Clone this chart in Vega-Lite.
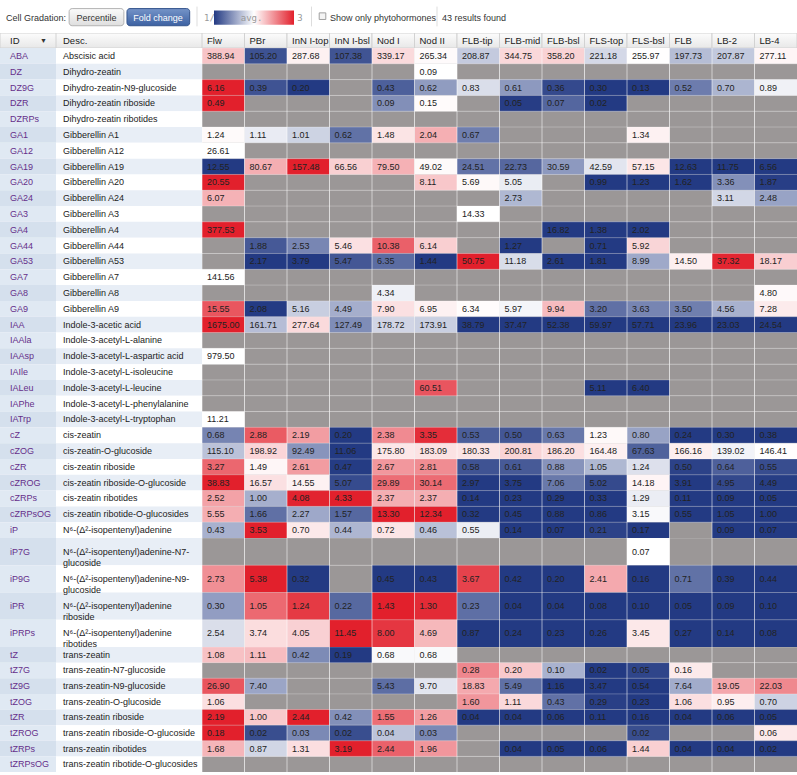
{
"$schema": "https://vega.github.io/schema/vega-lite/v6.json",
"padding": 0,
"background": "#ffffff",
"config": {"view": {"stroke": null}, "font": "Liberation Sans"},
"datasets": {
"rows": [
{"ID":"ABA","Desc":"Abscisic acid"},
{"ID":"DZ","Desc":"Dihydro-zeatin"},
{"ID":"DZ9G","Desc":"Dihydro-zeatin-N9-glucoside"},
{"ID":"DZR","Desc":"Dihydro-zeatin riboside"},
{"ID":"DZRPs","Desc":"Dihydro-zeatin ribotides"},
{"ID":"GA1","Desc":"Gibberellin A1"},
{"ID":"GA12","Desc":"Gibberellin A12"},
{"ID":"GA19","Desc":"Gibberellin A19"},
{"ID":"GA20","Desc":"Gibberellin A20"},
{"ID":"GA24","Desc":"Gibberellin A24"},
{"ID":"GA3","Desc":"Gibberellin A3"},
{"ID":"GA4","Desc":"Gibberellin A4"},
{"ID":"GA44","Desc":"Gibberellin A44"},
{"ID":"GA53","Desc":"Gibberellin A53"},
{"ID":"GA7","Desc":"Gibberellin A7"},
{"ID":"GA8","Desc":"Gibberellin A8"},
{"ID":"GA9","Desc":"Gibberellin A9"},
{"ID":"IAA","Desc":"Indole-3-acetic acid"},
{"ID":"IAAla","Desc":"Indole-3-acetyl-L-alanine"},
{"ID":"IAAsp","Desc":"Indole-3-acetyl-L-aspartic acid"},
{"ID":"IAIle","Desc":"Indole-3-acetyl-L-isoleucine"},
{"ID":"IALeu","Desc":"Indole-3-acetyl-L-leucine"},
{"ID":"IAPhe","Desc":"Indole-3-acetyl-L-phenylalanine"},
{"ID":"IATrp","Desc":"Indole-3-acetyl-L-tryptophan"},
{"ID":"cZ","Desc":"cis-zeatin"},
{"ID":"cZOG","Desc":"cis-zeatin-O-glucoside"},
{"ID":"cZR","Desc":"cis-zeatin riboside"},
{"ID":"cZROG","Desc":"cis-zeatin riboside-O-glucoside"},
{"ID":"cZRPs","Desc":"cis-zeatin ribotides"},
{"ID":"cZRPsOG","Desc":"cis-zeatin ribotide-O-glucosides"},
{"ID":"iP","Desc":"N⁶-(Δ²-isopentenyl)adenine"},
{"ID":"iP7G","Desc":"N⁶-(Δ²-isopentenyl)adenine-N7-\nglucoside"},
{"ID":"iP9G","Desc":"N⁶-(Δ²-isopentenyl)adenine-N9-\nglucoside"},
{"ID":"iPR","Desc":"N⁶-(Δ²-isopentenyl)adenine\nriboside"},
{"ID":"iPRPs","Desc":"N⁶-(Δ²-isopentenyl)adenine\nribotides"},
{"ID":"tZ","Desc":"trans-zeatin"},
{"ID":"tZ7G","Desc":"trans-zeatin-N7-glucoside"},
{"ID":"tZ9G","Desc":"trans-zeatin-N9-glucoside"},
{"ID":"tZOG","Desc":"trans-zeatin-O-glucoside"},
{"ID":"tZR","Desc":"trans-zeatin riboside"},
{"ID":"tZROG","Desc":"trans-zeatin riboside-O-glucoside"},
{"ID":"tZRPs","Desc":"trans-zeatin ribotides"},
{"ID":"tZRPsOG","Desc":"trans-zeatin ribotide-O-glucosides"}
],
"cells": [
{"ID":"ABA","tissue":"Flw","value":388.94},{"ID":"ABA","tissue":"PBr","value":105.20},{"ID":"ABA","tissue":"InN I-top","value":287.68},{"ID":"ABA","tissue":"InN I-bsl","value":107.38},{"ID":"ABA","tissue":"Nod I","value":339.17},{"ID":"ABA","tissue":"Nod II","value":265.34},{"ID":"ABA","tissue":"FLB-tip","value":208.87},{"ID":"ABA","tissue":"FLB-mid","value":344.75},{"ID":"ABA","tissue":"FLB-bsl","value":358.20},{"ID":"ABA","tissue":"FLS-top","value":221.18},{"ID":"ABA","tissue":"FLS-bsl","value":255.97},{"ID":"ABA","tissue":"FLB","value":197.73},{"ID":"ABA","tissue":"LB-2","value":207.87},{"ID":"ABA","tissue":"LB-4","value":277.11},
{"ID":"DZ","tissue":"Flw","value":null},{"ID":"DZ","tissue":"PBr","value":null},{"ID":"DZ","tissue":"InN I-top","value":null},{"ID":"DZ","tissue":"InN I-bsl","value":null},{"ID":"DZ","tissue":"Nod I","value":null},{"ID":"DZ","tissue":"Nod II","value":0.09},{"ID":"DZ","tissue":"FLB-tip","value":null},{"ID":"DZ","tissue":"FLB-mid","value":null},{"ID":"DZ","tissue":"FLB-bsl","value":null},{"ID":"DZ","tissue":"FLS-top","value":null},{"ID":"DZ","tissue":"FLS-bsl","value":null},{"ID":"DZ","tissue":"FLB","value":null},{"ID":"DZ","tissue":"LB-2","value":null},{"ID":"DZ","tissue":"LB-4","value":null},
{"ID":"DZ9G","tissue":"Flw","value":6.16},{"ID":"DZ9G","tissue":"PBr","value":0.39},{"ID":"DZ9G","tissue":"InN I-top","value":0.20},{"ID":"DZ9G","tissue":"InN I-bsl","value":null},{"ID":"DZ9G","tissue":"Nod I","value":0.43},{"ID":"DZ9G","tissue":"Nod II","value":0.62},{"ID":"DZ9G","tissue":"FLB-tip","value":0.83},{"ID":"DZ9G","tissue":"FLB-mid","value":0.61},{"ID":"DZ9G","tissue":"FLB-bsl","value":0.36},{"ID":"DZ9G","tissue":"FLS-top","value":0.30},{"ID":"DZ9G","tissue":"FLS-bsl","value":0.13},{"ID":"DZ9G","tissue":"FLB","value":0.52},{"ID":"DZ9G","tissue":"LB-2","value":0.70},{"ID":"DZ9G","tissue":"LB-4","value":0.89},
{"ID":"DZR","tissue":"Flw","value":0.49},{"ID":"DZR","tissue":"PBr","value":null},{"ID":"DZR","tissue":"InN I-top","value":null},{"ID":"DZR","tissue":"InN I-bsl","value":null},{"ID":"DZR","tissue":"Nod I","value":0.09},{"ID":"DZR","tissue":"Nod II","value":0.15},{"ID":"DZR","tissue":"FLB-tip","value":null},{"ID":"DZR","tissue":"FLB-mid","value":0.05},{"ID":"DZR","tissue":"FLB-bsl","value":0.07},{"ID":"DZR","tissue":"FLS-top","value":0.02},{"ID":"DZR","tissue":"FLS-bsl","value":null},{"ID":"DZR","tissue":"FLB","value":null},{"ID":"DZR","tissue":"LB-2","value":null},{"ID":"DZR","tissue":"LB-4","value":null},
{"ID":"DZRPs","tissue":"Flw","value":null},{"ID":"DZRPs","tissue":"PBr","value":null},{"ID":"DZRPs","tissue":"InN I-top","value":null},{"ID":"DZRPs","tissue":"InN I-bsl","value":null},{"ID":"DZRPs","tissue":"Nod I","value":null},{"ID":"DZRPs","tissue":"Nod II","value":null},{"ID":"DZRPs","tissue":"FLB-tip","value":null},{"ID":"DZRPs","tissue":"FLB-mid","value":null},{"ID":"DZRPs","tissue":"FLB-bsl","value":null},{"ID":"DZRPs","tissue":"FLS-top","value":null},{"ID":"DZRPs","tissue":"FLS-bsl","value":null},{"ID":"DZRPs","tissue":"FLB","value":null},{"ID":"DZRPs","tissue":"LB-2","value":null},{"ID":"DZRPs","tissue":"LB-4","value":null},
{"ID":"GA1","tissue":"Flw","value":1.24},{"ID":"GA1","tissue":"PBr","value":1.11},{"ID":"GA1","tissue":"InN I-top","value":1.01},{"ID":"GA1","tissue":"InN I-bsl","value":0.62},{"ID":"GA1","tissue":"Nod I","value":1.48},{"ID":"GA1","tissue":"Nod II","value":2.04},{"ID":"GA1","tissue":"FLB-tip","value":0.67},{"ID":"GA1","tissue":"FLB-mid","value":null},{"ID":"GA1","tissue":"FLB-bsl","value":null},{"ID":"GA1","tissue":"FLS-top","value":null},{"ID":"GA1","tissue":"FLS-bsl","value":1.34},{"ID":"GA1","tissue":"FLB","value":null},{"ID":"GA1","tissue":"LB-2","value":null},{"ID":"GA1","tissue":"LB-4","value":null},
{"ID":"GA12","tissue":"Flw","value":26.61},{"ID":"GA12","tissue":"PBr","value":null},{"ID":"GA12","tissue":"InN I-top","value":null},{"ID":"GA12","tissue":"InN I-bsl","value":null},{"ID":"GA12","tissue":"Nod I","value":null},{"ID":"GA12","tissue":"Nod II","value":null},{"ID":"GA12","tissue":"FLB-tip","value":null},{"ID":"GA12","tissue":"FLB-mid","value":null},{"ID":"GA12","tissue":"FLB-bsl","value":null},{"ID":"GA12","tissue":"FLS-top","value":null},{"ID":"GA12","tissue":"FLS-bsl","value":null},{"ID":"GA12","tissue":"FLB","value":null},{"ID":"GA12","tissue":"LB-2","value":null},{"ID":"GA12","tissue":"LB-4","value":null},
{"ID":"GA19","tissue":"Flw","value":12.55},{"ID":"GA19","tissue":"PBr","value":80.67},{"ID":"GA19","tissue":"InN I-top","value":157.48},{"ID":"GA19","tissue":"InN I-bsl","value":66.56},{"ID":"GA19","tissue":"Nod I","value":79.50},{"ID":"GA19","tissue":"Nod II","value":49.02},{"ID":"GA19","tissue":"FLB-tip","value":24.51},{"ID":"GA19","tissue":"FLB-mid","value":22.73},{"ID":"GA19","tissue":"FLB-bsl","value":30.59},{"ID":"GA19","tissue":"FLS-top","value":42.59},{"ID":"GA19","tissue":"FLS-bsl","value":57.15},{"ID":"GA19","tissue":"FLB","value":12.63},{"ID":"GA19","tissue":"LB-2","value":11.75},{"ID":"GA19","tissue":"LB-4","value":6.56},
{"ID":"GA20","tissue":"Flw","value":20.55},{"ID":"GA20","tissue":"PBr","value":null},{"ID":"GA20","tissue":"InN I-top","value":null},{"ID":"GA20","tissue":"InN I-bsl","value":null},{"ID":"GA20","tissue":"Nod I","value":null},{"ID":"GA20","tissue":"Nod II","value":8.11},{"ID":"GA20","tissue":"FLB-tip","value":5.69},{"ID":"GA20","tissue":"FLB-mid","value":5.05},{"ID":"GA20","tissue":"FLB-bsl","value":null},{"ID":"GA20","tissue":"FLS-top","value":0.99},{"ID":"GA20","tissue":"FLS-bsl","value":1.23},{"ID":"GA20","tissue":"FLB","value":1.62},{"ID":"GA20","tissue":"LB-2","value":3.36},{"ID":"GA20","tissue":"LB-4","value":1.87},
{"ID":"GA24","tissue":"Flw","value":6.07},{"ID":"GA24","tissue":"PBr","value":null},{"ID":"GA24","tissue":"InN I-top","value":null},{"ID":"GA24","tissue":"InN I-bsl","value":null},{"ID":"GA24","tissue":"Nod I","value":null},{"ID":"GA24","tissue":"Nod II","value":null},{"ID":"GA24","tissue":"FLB-tip","value":null},{"ID":"GA24","tissue":"FLB-mid","value":2.73},{"ID":"GA24","tissue":"FLB-bsl","value":null},{"ID":"GA24","tissue":"FLS-top","value":null},{"ID":"GA24","tissue":"FLS-bsl","value":null},{"ID":"GA24","tissue":"FLB","value":null},{"ID":"GA24","tissue":"LB-2","value":3.11},{"ID":"GA24","tissue":"LB-4","value":2.48},
{"ID":"GA3","tissue":"Flw","value":null},{"ID":"GA3","tissue":"PBr","value":null},{"ID":"GA3","tissue":"InN I-top","value":null},{"ID":"GA3","tissue":"InN I-bsl","value":null},{"ID":"GA3","tissue":"Nod I","value":null},{"ID":"GA3","tissue":"Nod II","value":null},{"ID":"GA3","tissue":"FLB-tip","value":14.33},{"ID":"GA3","tissue":"FLB-mid","value":null},{"ID":"GA3","tissue":"FLB-bsl","value":null},{"ID":"GA3","tissue":"FLS-top","value":null},{"ID":"GA3","tissue":"FLS-bsl","value":null},{"ID":"GA3","tissue":"FLB","value":null},{"ID":"GA3","tissue":"LB-2","value":null},{"ID":"GA3","tissue":"LB-4","value":null},
{"ID":"GA4","tissue":"Flw","value":377.53},{"ID":"GA4","tissue":"PBr","value":null},{"ID":"GA4","tissue":"InN I-top","value":null},{"ID":"GA4","tissue":"InN I-bsl","value":null},{"ID":"GA4","tissue":"Nod I","value":null},{"ID":"GA4","tissue":"Nod II","value":null},{"ID":"GA4","tissue":"FLB-tip","value":null},{"ID":"GA4","tissue":"FLB-mid","value":null},{"ID":"GA4","tissue":"FLB-bsl","value":16.82},{"ID":"GA4","tissue":"FLS-top","value":1.38},{"ID":"GA4","tissue":"FLS-bsl","value":2.02},{"ID":"GA4","tissue":"FLB","value":null},{"ID":"GA4","tissue":"LB-2","value":null},{"ID":"GA4","tissue":"LB-4","value":null},
{"ID":"GA44","tissue":"Flw","value":null},{"ID":"GA44","tissue":"PBr","value":1.88},{"ID":"GA44","tissue":"InN I-top","value":2.53},{"ID":"GA44","tissue":"InN I-bsl","value":5.46},{"ID":"GA44","tissue":"Nod I","value":10.38},{"ID":"GA44","tissue":"Nod II","value":6.14},{"ID":"GA44","tissue":"FLB-tip","value":null},{"ID":"GA44","tissue":"FLB-mid","value":1.27},{"ID":"GA44","tissue":"FLB-bsl","value":null},{"ID":"GA44","tissue":"FLS-top","value":0.71},{"ID":"GA44","tissue":"FLS-bsl","value":5.92},{"ID":"GA44","tissue":"FLB","value":null},{"ID":"GA44","tissue":"LB-2","value":null},{"ID":"GA44","tissue":"LB-4","value":null},
{"ID":"GA53","tissue":"Flw","value":null},{"ID":"GA53","tissue":"PBr","value":2.17},{"ID":"GA53","tissue":"InN I-top","value":3.79},{"ID":"GA53","tissue":"InN I-bsl","value":5.47},{"ID":"GA53","tissue":"Nod I","value":6.35},{"ID":"GA53","tissue":"Nod II","value":1.44},{"ID":"GA53","tissue":"FLB-tip","value":50.75},{"ID":"GA53","tissue":"FLB-mid","value":11.18},{"ID":"GA53","tissue":"FLB-bsl","value":2.61},{"ID":"GA53","tissue":"FLS-top","value":1.81},{"ID":"GA53","tissue":"FLS-bsl","value":8.99},{"ID":"GA53","tissue":"FLB","value":14.50},{"ID":"GA53","tissue":"LB-2","value":37.32},{"ID":"GA53","tissue":"LB-4","value":18.17},
{"ID":"GA7","tissue":"Flw","value":141.56},{"ID":"GA7","tissue":"PBr","value":null},{"ID":"GA7","tissue":"InN I-top","value":null},{"ID":"GA7","tissue":"InN I-bsl","value":null},{"ID":"GA7","tissue":"Nod I","value":null},{"ID":"GA7","tissue":"Nod II","value":null},{"ID":"GA7","tissue":"FLB-tip","value":null},{"ID":"GA7","tissue":"FLB-mid","value":null},{"ID":"GA7","tissue":"FLB-bsl","value":null},{"ID":"GA7","tissue":"FLS-top","value":null},{"ID":"GA7","tissue":"FLS-bsl","value":null},{"ID":"GA7","tissue":"FLB","value":null},{"ID":"GA7","tissue":"LB-2","value":null},{"ID":"GA7","tissue":"LB-4","value":null},
{"ID":"GA8","tissue":"Flw","value":null},{"ID":"GA8","tissue":"PBr","value":null},{"ID":"GA8","tissue":"InN I-top","value":null},{"ID":"GA8","tissue":"InN I-bsl","value":null},{"ID":"GA8","tissue":"Nod I","value":4.34},{"ID":"GA8","tissue":"Nod II","value":null},{"ID":"GA8","tissue":"FLB-tip","value":null},{"ID":"GA8","tissue":"FLB-mid","value":null},{"ID":"GA8","tissue":"FLB-bsl","value":null},{"ID":"GA8","tissue":"FLS-top","value":null},{"ID":"GA8","tissue":"FLS-bsl","value":null},{"ID":"GA8","tissue":"FLB","value":null},{"ID":"GA8","tissue":"LB-2","value":null},{"ID":"GA8","tissue":"LB-4","value":4.80},
{"ID":"GA9","tissue":"Flw","value":15.55},{"ID":"GA9","tissue":"PBr","value":2.08},{"ID":"GA9","tissue":"InN I-top","value":5.16},{"ID":"GA9","tissue":"InN I-bsl","value":4.49},{"ID":"GA9","tissue":"Nod I","value":7.90},{"ID":"GA9","tissue":"Nod II","value":6.95},{"ID":"GA9","tissue":"FLB-tip","value":6.34},{"ID":"GA9","tissue":"FLB-mid","value":5.97},{"ID":"GA9","tissue":"FLB-bsl","value":9.94},{"ID":"GA9","tissue":"FLS-top","value":3.20},{"ID":"GA9","tissue":"FLS-bsl","value":3.63},{"ID":"GA9","tissue":"FLB","value":3.50},{"ID":"GA9","tissue":"LB-2","value":4.56},{"ID":"GA9","tissue":"LB-4","value":7.28},
{"ID":"IAA","tissue":"Flw","value":1675.00},{"ID":"IAA","tissue":"PBr","value":161.71},{"ID":"IAA","tissue":"InN I-top","value":277.64},{"ID":"IAA","tissue":"InN I-bsl","value":127.49},{"ID":"IAA","tissue":"Nod I","value":178.72},{"ID":"IAA","tissue":"Nod II","value":173.91},{"ID":"IAA","tissue":"FLB-tip","value":38.79},{"ID":"IAA","tissue":"FLB-mid","value":37.47},{"ID":"IAA","tissue":"FLB-bsl","value":52.38},{"ID":"IAA","tissue":"FLS-top","value":59.97},{"ID":"IAA","tissue":"FLS-bsl","value":57.71},{"ID":"IAA","tissue":"FLB","value":23.96},{"ID":"IAA","tissue":"LB-2","value":23.03},{"ID":"IAA","tissue":"LB-4","value":24.54},
{"ID":"IAAla","tissue":"Flw","value":null},{"ID":"IAAla","tissue":"PBr","value":null},{"ID":"IAAla","tissue":"InN I-top","value":null},{"ID":"IAAla","tissue":"InN I-bsl","value":null},{"ID":"IAAla","tissue":"Nod I","value":null},{"ID":"IAAla","tissue":"Nod II","value":null},{"ID":"IAAla","tissue":"FLB-tip","value":null},{"ID":"IAAla","tissue":"FLB-mid","value":null},{"ID":"IAAla","tissue":"FLB-bsl","value":null},{"ID":"IAAla","tissue":"FLS-top","value":null},{"ID":"IAAla","tissue":"FLS-bsl","value":null},{"ID":"IAAla","tissue":"FLB","value":null},{"ID":"IAAla","tissue":"LB-2","value":null},{"ID":"IAAla","tissue":"LB-4","value":null},
{"ID":"IAAsp","tissue":"Flw","value":979.50},{"ID":"IAAsp","tissue":"PBr","value":null},{"ID":"IAAsp","tissue":"InN I-top","value":null},{"ID":"IAAsp","tissue":"InN I-bsl","value":null},{"ID":"IAAsp","tissue":"Nod I","value":null},{"ID":"IAAsp","tissue":"Nod II","value":null},{"ID":"IAAsp","tissue":"FLB-tip","value":null},{"ID":"IAAsp","tissue":"FLB-mid","value":null},{"ID":"IAAsp","tissue":"FLB-bsl","value":null},{"ID":"IAAsp","tissue":"FLS-top","value":null},{"ID":"IAAsp","tissue":"FLS-bsl","value":null},{"ID":"IAAsp","tissue":"FLB","value":null},{"ID":"IAAsp","tissue":"LB-2","value":null},{"ID":"IAAsp","tissue":"LB-4","value":null},
{"ID":"IAIle","tissue":"Flw","value":null},{"ID":"IAIle","tissue":"PBr","value":null},{"ID":"IAIle","tissue":"InN I-top","value":null},{"ID":"IAIle","tissue":"InN I-bsl","value":null},{"ID":"IAIle","tissue":"Nod I","value":null},{"ID":"IAIle","tissue":"Nod II","value":null},{"ID":"IAIle","tissue":"FLB-tip","value":null},{"ID":"IAIle","tissue":"FLB-mid","value":null},{"ID":"IAIle","tissue":"FLB-bsl","value":null},{"ID":"IAIle","tissue":"FLS-top","value":null},{"ID":"IAIle","tissue":"FLS-bsl","value":null},{"ID":"IAIle","tissue":"FLB","value":null},{"ID":"IAIle","tissue":"LB-2","value":null},{"ID":"IAIle","tissue":"LB-4","value":null},
{"ID":"IALeu","tissue":"Flw","value":null},{"ID":"IALeu","tissue":"PBr","value":null},{"ID":"IALeu","tissue":"InN I-top","value":null},{"ID":"IALeu","tissue":"InN I-bsl","value":null},{"ID":"IALeu","tissue":"Nod I","value":null},{"ID":"IALeu","tissue":"Nod II","value":60.51},{"ID":"IALeu","tissue":"FLB-tip","value":null},{"ID":"IALeu","tissue":"FLB-mid","value":null},{"ID":"IALeu","tissue":"FLB-bsl","value":null},{"ID":"IALeu","tissue":"FLS-top","value":5.11},{"ID":"IALeu","tissue":"FLS-bsl","value":6.40},{"ID":"IALeu","tissue":"FLB","value":null},{"ID":"IALeu","tissue":"LB-2","value":null},{"ID":"IALeu","tissue":"LB-4","value":null},
{"ID":"IAPhe","tissue":"Flw","value":null},{"ID":"IAPhe","tissue":"PBr","value":null},{"ID":"IAPhe","tissue":"InN I-top","value":null},{"ID":"IAPhe","tissue":"InN I-bsl","value":null},{"ID":"IAPhe","tissue":"Nod I","value":null},{"ID":"IAPhe","tissue":"Nod II","value":null},{"ID":"IAPhe","tissue":"FLB-tip","value":null},{"ID":"IAPhe","tissue":"FLB-mid","value":null},{"ID":"IAPhe","tissue":"FLB-bsl","value":null},{"ID":"IAPhe","tissue":"FLS-top","value":null},{"ID":"IAPhe","tissue":"FLS-bsl","value":null},{"ID":"IAPhe","tissue":"FLB","value":null},{"ID":"IAPhe","tissue":"LB-2","value":null},{"ID":"IAPhe","tissue":"LB-4","value":null},
{"ID":"IATrp","tissue":"Flw","value":11.21},{"ID":"IATrp","tissue":"PBr","value":null},{"ID":"IATrp","tissue":"InN I-top","value":null},{"ID":"IATrp","tissue":"InN I-bsl","value":null},{"ID":"IATrp","tissue":"Nod I","value":null},{"ID":"IATrp","tissue":"Nod II","value":null},{"ID":"IATrp","tissue":"FLB-tip","value":null},{"ID":"IATrp","tissue":"FLB-mid","value":null},{"ID":"IATrp","tissue":"FLB-bsl","value":null},{"ID":"IATrp","tissue":"FLS-top","value":null},{"ID":"IATrp","tissue":"FLS-bsl","value":null},{"ID":"IATrp","tissue":"FLB","value":null},{"ID":"IATrp","tissue":"LB-2","value":null},{"ID":"IATrp","tissue":"LB-4","value":null},
{"ID":"cZ","tissue":"Flw","value":0.68},{"ID":"cZ","tissue":"PBr","value":2.88},{"ID":"cZ","tissue":"InN I-top","value":2.19},{"ID":"cZ","tissue":"InN I-bsl","value":0.20},{"ID":"cZ","tissue":"Nod I","value":2.38},{"ID":"cZ","tissue":"Nod II","value":3.35},{"ID":"cZ","tissue":"FLB-tip","value":0.53},{"ID":"cZ","tissue":"FLB-mid","value":0.50},{"ID":"cZ","tissue":"FLB-bsl","value":0.63},{"ID":"cZ","tissue":"FLS-top","value":1.23},{"ID":"cZ","tissue":"FLS-bsl","value":0.80},{"ID":"cZ","tissue":"FLB","value":0.24},{"ID":"cZ","tissue":"LB-2","value":0.30},{"ID":"cZ","tissue":"LB-4","value":0.38},
{"ID":"cZOG","tissue":"Flw","value":115.10},{"ID":"cZOG","tissue":"PBr","value":198.92},{"ID":"cZOG","tissue":"InN I-top","value":92.49},{"ID":"cZOG","tissue":"InN I-bsl","value":11.06},{"ID":"cZOG","tissue":"Nod I","value":175.80},{"ID":"cZOG","tissue":"Nod II","value":183.09},{"ID":"cZOG","tissue":"FLB-tip","value":180.33},{"ID":"cZOG","tissue":"FLB-mid","value":200.81},{"ID":"cZOG","tissue":"FLB-bsl","value":186.20},{"ID":"cZOG","tissue":"FLS-top","value":164.48},{"ID":"cZOG","tissue":"FLS-bsl","value":67.63},{"ID":"cZOG","tissue":"FLB","value":166.16},{"ID":"cZOG","tissue":"LB-2","value":139.02},{"ID":"cZOG","tissue":"LB-4","value":146.41},
{"ID":"cZR","tissue":"Flw","value":3.27},{"ID":"cZR","tissue":"PBr","value":1.49},{"ID":"cZR","tissue":"InN I-top","value":2.61},{"ID":"cZR","tissue":"InN I-bsl","value":0.47},{"ID":"cZR","tissue":"Nod I","value":2.67},{"ID":"cZR","tissue":"Nod II","value":2.81},{"ID":"cZR","tissue":"FLB-tip","value":0.58},{"ID":"cZR","tissue":"FLB-mid","value":0.61},{"ID":"cZR","tissue":"FLB-bsl","value":0.88},{"ID":"cZR","tissue":"FLS-top","value":1.05},{"ID":"cZR","tissue":"FLS-bsl","value":1.24},{"ID":"cZR","tissue":"FLB","value":0.50},{"ID":"cZR","tissue":"LB-2","value":0.64},{"ID":"cZR","tissue":"LB-4","value":0.55},
{"ID":"cZROG","tissue":"Flw","value":38.83},{"ID":"cZROG","tissue":"PBr","value":16.57},{"ID":"cZROG","tissue":"InN I-top","value":14.55},{"ID":"cZROG","tissue":"InN I-bsl","value":5.07},{"ID":"cZROG","tissue":"Nod I","value":29.89},{"ID":"cZROG","tissue":"Nod II","value":30.14},{"ID":"cZROG","tissue":"FLB-tip","value":2.97},{"ID":"cZROG","tissue":"FLB-mid","value":3.75},{"ID":"cZROG","tissue":"FLB-bsl","value":7.06},{"ID":"cZROG","tissue":"FLS-top","value":5.02},{"ID":"cZROG","tissue":"FLS-bsl","value":14.18},{"ID":"cZROG","tissue":"FLB","value":3.91},{"ID":"cZROG","tissue":"LB-2","value":4.95},{"ID":"cZROG","tissue":"LB-4","value":4.49},
{"ID":"cZRPs","tissue":"Flw","value":2.52},{"ID":"cZRPs","tissue":"PBr","value":1.00},{"ID":"cZRPs","tissue":"InN I-top","value":4.08},{"ID":"cZRPs","tissue":"InN I-bsl","value":4.33},{"ID":"cZRPs","tissue":"Nod I","value":2.37},{"ID":"cZRPs","tissue":"Nod II","value":2.37},{"ID":"cZRPs","tissue":"FLB-tip","value":0.14},{"ID":"cZRPs","tissue":"FLB-mid","value":0.23},{"ID":"cZRPs","tissue":"FLB-bsl","value":0.29},{"ID":"cZRPs","tissue":"FLS-top","value":0.33},{"ID":"cZRPs","tissue":"FLS-bsl","value":1.29},{"ID":"cZRPs","tissue":"FLB","value":0.11},{"ID":"cZRPs","tissue":"LB-2","value":0.09},{"ID":"cZRPs","tissue":"LB-4","value":0.05},
{"ID":"cZRPsOG","tissue":"Flw","value":5.55},{"ID":"cZRPsOG","tissue":"PBr","value":1.66},{"ID":"cZRPsOG","tissue":"InN I-top","value":2.27},{"ID":"cZRPsOG","tissue":"InN I-bsl","value":1.57},{"ID":"cZRPsOG","tissue":"Nod I","value":13.30},{"ID":"cZRPsOG","tissue":"Nod II","value":12.34},{"ID":"cZRPsOG","tissue":"FLB-tip","value":0.32},{"ID":"cZRPsOG","tissue":"FLB-mid","value":0.45},{"ID":"cZRPsOG","tissue":"FLB-bsl","value":0.88},{"ID":"cZRPsOG","tissue":"FLS-top","value":0.86},{"ID":"cZRPsOG","tissue":"FLS-bsl","value":3.15},{"ID":"cZRPsOG","tissue":"FLB","value":0.55},{"ID":"cZRPsOG","tissue":"LB-2","value":1.05},{"ID":"cZRPsOG","tissue":"LB-4","value":1.00},
{"ID":"iP","tissue":"Flw","value":0.43},{"ID":"iP","tissue":"PBr","value":3.53},{"ID":"iP","tissue":"InN I-top","value":0.70},{"ID":"iP","tissue":"InN I-bsl","value":0.44},{"ID":"iP","tissue":"Nod I","value":0.72},{"ID":"iP","tissue":"Nod II","value":0.46},{"ID":"iP","tissue":"FLB-tip","value":0.55},{"ID":"iP","tissue":"FLB-mid","value":0.14},{"ID":"iP","tissue":"FLB-bsl","value":0.07},{"ID":"iP","tissue":"FLS-top","value":0.21},{"ID":"iP","tissue":"FLS-bsl","value":0.17},{"ID":"iP","tissue":"FLB","value":null},{"ID":"iP","tissue":"LB-2","value":0.09},{"ID":"iP","tissue":"LB-4","value":0.07},
{"ID":"iP7G","tissue":"Flw","value":null},{"ID":"iP7G","tissue":"PBr","value":null},{"ID":"iP7G","tissue":"InN I-top","value":null},{"ID":"iP7G","tissue":"InN I-bsl","value":null},{"ID":"iP7G","tissue":"Nod I","value":null},{"ID":"iP7G","tissue":"Nod II","value":null},{"ID":"iP7G","tissue":"FLB-tip","value":null},{"ID":"iP7G","tissue":"FLB-mid","value":null},{"ID":"iP7G","tissue":"FLB-bsl","value":null},{"ID":"iP7G","tissue":"FLS-top","value":null},{"ID":"iP7G","tissue":"FLS-bsl","value":0.07},{"ID":"iP7G","tissue":"FLB","value":null},{"ID":"iP7G","tissue":"LB-2","value":null},{"ID":"iP7G","tissue":"LB-4","value":null},
{"ID":"iP9G","tissue":"Flw","value":2.73},{"ID":"iP9G","tissue":"PBr","value":5.38},{"ID":"iP9G","tissue":"InN I-top","value":0.32},{"ID":"iP9G","tissue":"InN I-bsl","value":null},{"ID":"iP9G","tissue":"Nod I","value":0.45},{"ID":"iP9G","tissue":"Nod II","value":0.43},{"ID":"iP9G","tissue":"FLB-tip","value":3.67},{"ID":"iP9G","tissue":"FLB-mid","value":0.42},{"ID":"iP9G","tissue":"FLB-bsl","value":0.20},{"ID":"iP9G","tissue":"FLS-top","value":2.41},{"ID":"iP9G","tissue":"FLS-bsl","value":0.16},{"ID":"iP9G","tissue":"FLB","value":0.71},{"ID":"iP9G","tissue":"LB-2","value":0.39},{"ID":"iP9G","tissue":"LB-4","value":0.44},
{"ID":"iPR","tissue":"Flw","value":0.30},{"ID":"iPR","tissue":"PBr","value":1.05},{"ID":"iPR","tissue":"InN I-top","value":1.24},{"ID":"iPR","tissue":"InN I-bsl","value":0.22},{"ID":"iPR","tissue":"Nod I","value":1.43},{"ID":"iPR","tissue":"Nod II","value":1.30},{"ID":"iPR","tissue":"FLB-tip","value":0.23},{"ID":"iPR","tissue":"FLB-mid","value":0.04},{"ID":"iPR","tissue":"FLB-bsl","value":0.04},{"ID":"iPR","tissue":"FLS-top","value":0.08},{"ID":"iPR","tissue":"FLS-bsl","value":0.10},{"ID":"iPR","tissue":"FLB","value":0.05},{"ID":"iPR","tissue":"LB-2","value":0.09},{"ID":"iPR","tissue":"LB-4","value":0.10},
{"ID":"iPRPs","tissue":"Flw","value":2.54},{"ID":"iPRPs","tissue":"PBr","value":3.74},{"ID":"iPRPs","tissue":"InN I-top","value":4.05},{"ID":"iPRPs","tissue":"InN I-bsl","value":11.45},{"ID":"iPRPs","tissue":"Nod I","value":8.00},{"ID":"iPRPs","tissue":"Nod II","value":4.69},{"ID":"iPRPs","tissue":"FLB-tip","value":0.87},{"ID":"iPRPs","tissue":"FLB-mid","value":0.24},{"ID":"iPRPs","tissue":"FLB-bsl","value":0.23},{"ID":"iPRPs","tissue":"FLS-top","value":0.26},{"ID":"iPRPs","tissue":"FLS-bsl","value":3.45},{"ID":"iPRPs","tissue":"FLB","value":0.27},{"ID":"iPRPs","tissue":"LB-2","value":0.14},{"ID":"iPRPs","tissue":"LB-4","value":0.08},
{"ID":"tZ","tissue":"Flw","value":1.08},{"ID":"tZ","tissue":"PBr","value":1.11},{"ID":"tZ","tissue":"InN I-top","value":0.42},{"ID":"tZ","tissue":"InN I-bsl","value":0.19},{"ID":"tZ","tissue":"Nod I","value":0.68},{"ID":"tZ","tissue":"Nod II","value":0.68},{"ID":"tZ","tissue":"FLB-tip","value":null},{"ID":"tZ","tissue":"FLB-mid","value":null},{"ID":"tZ","tissue":"FLB-bsl","value":null},{"ID":"tZ","tissue":"FLS-top","value":null},{"ID":"tZ","tissue":"FLS-bsl","value":null},{"ID":"tZ","tissue":"FLB","value":null},{"ID":"tZ","tissue":"LB-2","value":null},{"ID":"tZ","tissue":"LB-4","value":null},
{"ID":"tZ7G","tissue":"Flw","value":null},{"ID":"tZ7G","tissue":"PBr","value":null},{"ID":"tZ7G","tissue":"InN I-top","value":null},{"ID":"tZ7G","tissue":"InN I-bsl","value":null},{"ID":"tZ7G","tissue":"Nod I","value":null},{"ID":"tZ7G","tissue":"Nod II","value":null},{"ID":"tZ7G","tissue":"FLB-tip","value":0.28},{"ID":"tZ7G","tissue":"FLB-mid","value":0.20},{"ID":"tZ7G","tissue":"FLB-bsl","value":0.10},{"ID":"tZ7G","tissue":"FLS-top","value":0.02},{"ID":"tZ7G","tissue":"FLS-bsl","value":0.05},{"ID":"tZ7G","tissue":"FLB","value":0.16},{"ID":"tZ7G","tissue":"LB-2","value":null},{"ID":"tZ7G","tissue":"LB-4","value":null},
{"ID":"tZ9G","tissue":"Flw","value":26.90},{"ID":"tZ9G","tissue":"PBr","value":7.40},{"ID":"tZ9G","tissue":"InN I-top","value":null},{"ID":"tZ9G","tissue":"InN I-bsl","value":null},{"ID":"tZ9G","tissue":"Nod I","value":5.43},{"ID":"tZ9G","tissue":"Nod II","value":9.70},{"ID":"tZ9G","tissue":"FLB-tip","value":18.83},{"ID":"tZ9G","tissue":"FLB-mid","value":5.49},{"ID":"tZ9G","tissue":"FLB-bsl","value":1.16},{"ID":"tZ9G","tissue":"FLS-top","value":3.47},{"ID":"tZ9G","tissue":"FLS-bsl","value":0.54},{"ID":"tZ9G","tissue":"FLB","value":7.64},{"ID":"tZ9G","tissue":"LB-2","value":19.05},{"ID":"tZ9G","tissue":"LB-4","value":22.03},
{"ID":"tZOG","tissue":"Flw","value":1.06},{"ID":"tZOG","tissue":"PBr","value":null},{"ID":"tZOG","tissue":"InN I-top","value":null},{"ID":"tZOG","tissue":"InN I-bsl","value":null},{"ID":"tZOG","tissue":"Nod I","value":null},{"ID":"tZOG","tissue":"Nod II","value":null},{"ID":"tZOG","tissue":"FLB-tip","value":1.60},{"ID":"tZOG","tissue":"FLB-mid","value":1.11},{"ID":"tZOG","tissue":"FLB-bsl","value":0.43},{"ID":"tZOG","tissue":"FLS-top","value":0.29},{"ID":"tZOG","tissue":"FLS-bsl","value":0.23},{"ID":"tZOG","tissue":"FLB","value":1.06},{"ID":"tZOG","tissue":"LB-2","value":0.95},{"ID":"tZOG","tissue":"LB-4","value":0.70},
{"ID":"tZR","tissue":"Flw","value":2.19},{"ID":"tZR","tissue":"PBr","value":1.00},{"ID":"tZR","tissue":"InN I-top","value":2.44},{"ID":"tZR","tissue":"InN I-bsl","value":0.42},{"ID":"tZR","tissue":"Nod I","value":1.55},{"ID":"tZR","tissue":"Nod II","value":1.26},{"ID":"tZR","tissue":"FLB-tip","value":0.04},{"ID":"tZR","tissue":"FLB-mid","value":0.04},{"ID":"tZR","tissue":"FLB-bsl","value":0.06},{"ID":"tZR","tissue":"FLS-top","value":0.11},{"ID":"tZR","tissue":"FLS-bsl","value":0.16},{"ID":"tZR","tissue":"FLB","value":0.04},{"ID":"tZR","tissue":"LB-2","value":0.06},{"ID":"tZR","tissue":"LB-4","value":0.05},
{"ID":"tZROG","tissue":"Flw","value":0.18},{"ID":"tZROG","tissue":"PBr","value":0.02},{"ID":"tZROG","tissue":"InN I-top","value":0.03},{"ID":"tZROG","tissue":"InN I-bsl","value":0.02},{"ID":"tZROG","tissue":"Nod I","value":0.04},{"ID":"tZROG","tissue":"Nod II","value":0.03},{"ID":"tZROG","tissue":"FLB-tip","value":null},{"ID":"tZROG","tissue":"FLB-mid","value":null},{"ID":"tZROG","tissue":"FLB-bsl","value":null},{"ID":"tZROG","tissue":"FLS-top","value":null},{"ID":"tZROG","tissue":"FLS-bsl","value":0.02},{"ID":"tZROG","tissue":"FLB","value":null},{"ID":"tZROG","tissue":"LB-2","value":null},{"ID":"tZROG","tissue":"LB-4","value":0.06},
{"ID":"tZRPs","tissue":"Flw","value":1.68},{"ID":"tZRPs","tissue":"PBr","value":0.87},{"ID":"tZRPs","tissue":"InN I-top","value":1.31},{"ID":"tZRPs","tissue":"InN I-bsl","value":3.19},{"ID":"tZRPs","tissue":"Nod I","value":2.44},{"ID":"tZRPs","tissue":"Nod II","value":1.96},{"ID":"tZRPs","tissue":"FLB-tip","value":null},{"ID":"tZRPs","tissue":"FLB-mid","value":0.04},{"ID":"tZRPs","tissue":"FLB-bsl","value":0.05},{"ID":"tZRPs","tissue":"FLS-top","value":0.06},{"ID":"tZRPs","tissue":"FLS-bsl","value":1.44},{"ID":"tZRPs","tissue":"FLB","value":0.04},{"ID":"tZRPs","tissue":"LB-2","value":0.04},{"ID":"tZRPs","tissue":"LB-4","value":0.02},
{"ID":"tZRPsOG","tissue":"Flw","value":null},{"ID":"tZRPsOG","tissue":"PBr","value":null},{"ID":"tZRPsOG","tissue":"InN I-top","value":null},{"ID":"tZRPsOG","tissue":"InN I-bsl","value":null},{"ID":"tZRPsOG","tissue":"Nod I","value":null},{"ID":"tZRPsOG","tissue":"Nod II","value":null},{"ID":"tZRPsOG","tissue":"FLB-tip","value":null},{"ID":"tZRPsOG","tissue":"FLB-mid","value":null},{"ID":"tZRPsOG","tissue":"FLB-bsl","value":null},{"ID":"tZRPsOG","tissue":"FLS-top","value":null},{"ID":"tZRPsOG","tissue":"FLS-bsl","value":null},{"ID":"tZRPsOG","tissue":"FLB","value":null},{"ID":"tZRPsOG","tissue":"LB-2","value":null},{"ID":"tZRPsOG","tissue":"LB-4","value":null}
]
},
"vconcat": [
{"hconcat": [
 {"width": 68, "height": 33, "data": {"values": [{"label": "Cell Gradation:"}]},
  "mark": {"type": "text", "align": "right", "dx": -2, "dy": 1, "fontSize": 9, "color": "#333333"},
  "encoding": {"x": {"datum": 1, "type": "quantitative", "scale": {"domain": [0, 1]}, "axis": null}, "text": {"field": "label"}}},
 {"width": 57, "height": 33, "data": {"values": [{"label": "Percentile"}]},
  "layer": [
   {"mark": {"type": "rect", "cornerRadius": 3, "stroke": "#b3b3b3", "strokeWidth": 1, "fill": {"gradient": "linear", "x1": 0, "y1": 0, "x2": 0, "y2": 1, "stops": [{"offset": 0, "color": "#fbfbfb"}, {"offset": 1, "color": "#dedede"}]}},
    "encoding": {"x": {"datum": 0.02, "type": "quantitative", "scale": {"domain": [0, 1]}, "axis": null}, "x2": {"datum": 0.98}, "y": {"datum": 0.22, "type": "quantitative", "scale": {"domain": [0, 1]}, "axis": null}, "y2": {"datum": 0.74}}},
   {"mark": {"type": "text", "fontSize": 9, "dy": 1, "color": "#333333"},
    "encoding": {"x": {"datum": 0.5, "type": "quantitative"}, "text": {"field": "label"}}}
  ]},
 {"width": 66, "height": 33, "data": {"values": [{"label": "Fold change"}]},
  "layer": [
   {"mark": {"type": "rect", "cornerRadius": 3, "stroke": "#34548c", "strokeWidth": 1, "fill": {"gradient": "linear", "x1": 0, "y1": 0, "x2": 0, "y2": 1, "stops": [{"offset": 0, "color": "#7594c8"}, {"offset": 1, "color": "#3c61a2"}]}},
    "encoding": {"x": {"datum": 0.03, "type": "quantitative", "scale": {"domain": [0, 1]}, "axis": null}, "x2": {"datum": 0.98}, "y": {"datum": 0.22, "type": "quantitative", "scale": {"domain": [0, 1]}, "axis": null}, "y2": {"datum": 0.74}}},
   {"mark": {"type": "text", "fontSize": 9, "dy": 1, "color": "#ffffff"},
    "encoding": {"x": {"datum": 0.5, "type": "quantitative"}, "text": {"field": "label"}}}
  ]},
 {"width": 12, "height": 33, "data": {"values": [{"label": "sep"}]},
  "mark": {"type": "rule", "color": "#dddddd"},
  "encoding": {"x": {"datum": 0.5, "type": "quantitative", "scale": {"domain": [0, 1]}, "axis": null}, "y": {"datum": 0.2, "type": "quantitative", "scale": {"domain": [0, 1]}, "axis": null}, "y2": {"datum": 0.8}}},
 {"width": 11, "height": 33, "data": {"values": [{"label": "1/3"}]},
  "mark": {"type": "text", "align": "left", "dx": 1, "dy": 1, "fontSize": 9, "font": "DejaVu Sans Mono", "color": "#999999"},
  "encoding": {"x": {"datum": 0, "type": "quantitative", "scale": {"domain": [0, 1]}, "axis": null}, "text": {"field": "label"}}},
 {"width": 80, "height": 33, "data": {"values": [{"label": "avg."}]},
  "layer": [
   {"mark": {"type": "rect", "fill": {"gradient": "linear", "x1": 0, "y1": 0, "x2": 1, "y2": 0, "stops": [{"offset": 0, "color": "#233a83"}, {"offset": 0.5, "color": "#ffffff"}, {"offset": 1, "color": "#e2202c"}]}},
    "encoding": {"x": {"datum": 0, "type": "quantitative", "scale": {"domain": [0, 1]}, "axis": null}, "x2": {"datum": 1}, "y": {"datum": 0.25, "type": "quantitative", "scale": {"domain": [0, 1]}, "axis": null}, "y2": {"datum": 0.68}}},
   {"mark": {"type": "text", "fontSize": 9, "dy": 1, "font": "DejaVu Sans Mono", "color": "#999999"},
    "encoding": {"x": {"datum": 0.47, "type": "quantitative"}, "text": {"field": "label"}}}
  ]},
 {"width": 12, "height": 33, "data": {"values": [{"label": "3"}]},
  "mark": {"type": "text", "dy": 1, "fontSize": 9, "font": "DejaVu Sans Mono", "color": "#999999"},
  "encoding": {"x": {"datum": 0.5, "type": "quantitative", "scale": {"domain": [0, 1]}, "axis": null}, "text": {"field": "label"}}},
 {"width": 11, "height": 33, "data": {"values": [{"label": "sep"}]},
  "mark": {"type": "rule", "color": "#dddddd"},
  "encoding": {"x": {"datum": 0.5, "type": "quantitative", "scale": {"domain": [0, 1]}, "axis": null}, "y": {"datum": 0.2, "type": "quantitative", "scale": {"domain": [0, 1]}, "axis": null}, "y2": {"datum": 0.8}}},
 {"width": 11, "height": 33, "data": {"values": [{"label": "box"}]},
  "mark": {"type": "rect", "fill": "#f4f4f4", "stroke": "#a0a0a0", "strokeWidth": 1},
  "encoding": {"x": {"datum": 0.2, "type": "quantitative", "scale": {"domain": [0, 1]}, "axis": null}, "x2": {"datum": 0.8}, "y": {"datum": 0.41, "type": "quantitative", "scale": {"domain": [0, 1]}, "axis": null}, "y2": {"datum": 0.61}}},
 {"width": 106, "height": 33, "data": {"values": [{"label": "Show only phytohormones"}]},
  "mark": {"type": "text", "align": "left", "dx": 2, "dy": 1, "fontSize": 9, "color": "#333333"},
  "encoding": {"x": {"datum": 0, "type": "quantitative", "scale": {"domain": [0, 1]}, "axis": null}, "text": {"field": "label"}}},
 {"width": 6, "height": 33, "data": {"values": [{"label": "sep"}]},
  "mark": {"type": "rule", "color": "#dddddd"},
  "encoding": {"x": {"datum": 0.5, "type": "quantitative", "scale": {"domain": [0, 1]}, "axis": null}, "y": {"datum": 0.2, "type": "quantitative", "scale": {"domain": [0, 1]}, "axis": null}, "y2": {"datum": 0.8}}},
 {"width": 357, "height": 33, "data": {"values": [{"label": "43 results found"}]},
  "mark": {"type": "text", "align": "left", "dx": 2, "dy": 1, "fontSize": 9, "color": "#333333"},
  "encoding": {"x": {"datum": 0, "type": "quantitative", "scale": {"domain": [0, 1]}, "axis": null}, "text": {"field": "label"}}}
], "spacing": 0, "bounds": "flush"},
{"hconcat": [
 {"width": 56, "height": 15, "data": {"values": [{"label": "ID"}]},
  "layer": [
   {"mark": {"type": "rect", "clip": true, "stroke": "#d2d2d2", "strokeWidth": 1, "fill": {"gradient": "linear", "x1": 0, "y1": 0, "x2": 0, "y2": 1, "stops": [{"offset": 0, "color": "#fcfcfc"}, {"offset": 1, "color": "#e8e8e8"}]}},
    "encoding": {"x": {"datum": 0, "type": "quantitative", "scale": {"domain": [0, 1]}, "axis": null}, "x2": {"datum": 1}, "y": {"datum": 0, "type": "quantitative", "scale": {"domain": [0, 1]}, "axis": null}, "y2": {"datum": 1}}},
   {"mark": {"type": "text", "clip": true, "align": "left", "dx": 10, "fontSize": 9.5, "color": "#222222"},
    "encoding": {"x": {"datum": 0, "type": "quantitative"}, "text": {"field": "label"}}},
   {"mark": {"type": "text", "clip": true, "align": "right", "dx": -9, "fontSize": 7, "color": "#333333", "text": "▼"},
    "encoding": {"x": {"datum": 1, "type": "quantitative"}}}
  ]},
 {"width": 146, "height": 15, "data": {"values": [{"label": "Desc."}]},
  "layer": [
   {"mark": {"type": "rect", "clip": true, "stroke": "#d2d2d2", "strokeWidth": 1, "fill": {"gradient": "linear", "x1": 0, "y1": 0, "x2": 0, "y2": 1, "stops": [{"offset": 0, "color": "#fcfcfc"}, {"offset": 1, "color": "#e8e8e8"}]}},
    "encoding": {"x": {"datum": 0, "type": "quantitative", "scale": {"domain": [0, 1]}, "axis": null}, "x2": {"datum": 1}, "y": {"datum": 0, "type": "quantitative", "scale": {"domain": [0, 1]}, "axis": null}, "y2": {"datum": 1}}},
   {"mark": {"type": "text", "clip": true, "align": "left", "dx": 7, "fontSize": 9.5, "color": "#222222"},
    "encoding": {"x": {"datum": 0, "type": "quantitative"}, "text": {"field": "label"}}}
  ]},
 {"width": 595, "height": 15, "data": {"name": "cells"},
  "transform": [{"filter": "datum.ID == 'ABA'"}],
  "encoding": {"x": {"field": "tissue", "type": "nominal", "sort": null, "axis": null, "scale": {"paddingInner": 0, "paddingOuter": 0}}},
  "layer": [
   {"mark": {"type": "rect", "clip": true, "stroke": "#d2d2d2", "strokeWidth": 1, "fill": {"gradient": "linear", "x1": 0, "y1": 0, "x2": 0, "y2": 1, "stops": [{"offset": 0, "color": "#fcfcfc"}, {"offset": 1, "color": "#e8e8e8"}]}},
    "encoding": {"y": {"datum": 0, "type": "quantitative", "scale": {"domain": [0, 1]}, "axis": null}, "y2": {"datum": 1}}},
   {"mark": {"type": "text", "clip": true, "align": "left", "dx": 5, "fontSize": 9.5, "color": "#222222"},
    "encoding": {"x": {"field": "tissue", "type": "nominal", "sort": null, "bandPosition": 0}, "text": {"field": "tissue"}}}
  ]}
], "spacing": 0, "bounds": "flush"},
{"hconcat": [
 {"width": 56, "height": 490, "data": {"name": "rows"},
  "transform": [{"window": [{"op": "row_number", "as": "rn"}]}, {"filter": "datum.rn <= 31"}],
  "encoding": {"y": {"field": "ID", "type": "nominal", "sort": null, "axis": null, "scale": {"paddingInner": 0, "paddingOuter": 0}}},
  "layer": [
   {"mark": {"type": "rect", "clip": true}, "encoding": {"x": {"datum": 0, "type": "quantitative", "scale": {"domain": [0, 1]}, "axis": null}, "x2": {"datum": 1}, "color": {"condition": {"test": "datum.rn % 2 == 0", "value": "#d5e0ed"}, "value": "#e0e9f3"}}},
   {"mark": {"type": "text", "clip": true, "align": "left", "dx": 10, "fontSize": 9, "color": "#652f8a"}, "encoding": {"x": {"datum": 0, "type": "quantitative"}, "text": {"field": "ID"}}}
  ]},
 {"width": 146, "height": 490, "data": {"name": "rows"},
  "transform": [{"window": [{"op": "row_number", "as": "rn"}]}, {"filter": "datum.rn <= 31"}],
  "encoding": {"y": {"field": "ID", "type": "nominal", "sort": null, "axis": null, "scale": {"paddingInner": 0, "paddingOuter": 0}}},
  "layer": [
   {"mark": {"type": "rect", "clip": true}, "encoding": {"x": {"datum": 0, "type": "quantitative", "scale": {"domain": [0, 1]}, "axis": null}, "x2": {"datum": 1}, "color": {"condition": {"test": "datum.rn % 2 == 0", "value": "#e8eef6"}, "value": "#ffffff"}}},
   {"mark": {"type": "text", "clip": true, "align": "left", "dx": 7, "fontSize": 9, "color": "#222222", "lineBreak": "\n", "lineHeight": 11}, "encoding": {"x": {"datum": 0, "type": "quantitative"}, "text": {"field": "Desc"}}}
  ]},
 {"width": 595, "height": 490, "data": {"name": "cells"},
  "transform": [
   {"joinaggregate": [{"op": "mean", "field": "value", "as": "avg"}], "groupby": ["ID"]},
   {"calculate": "datum.value / datum.avg", "as": "fc"},
   {"window": [{"op": "row_number", "as": "rn"}], "groupby": ["tissue"]},
   {"filter": "datum.rn <= 31"}
  ],
  "layer": [
   {"mark": {"type": "rect", "fill": "#9b9797", "clip": true},
    "encoding": {"x": {"field": "tissue", "type": "nominal", "sort": null, "axis": null, "scale": {"paddingInner": 0, "paddingOuter": 0}}, "y": {"field": "ID", "type": "nominal", "sort": null, "axis": null, "scale": {"paddingInner": 0, "paddingOuter": 0}}}},
   {"transform": [{"filter": "datum.value != null"}], "mark": {"type": "rect", "clip": true},
    "encoding": {"x": {"field": "tissue", "type": "nominal", "sort": null}, "y": {"field": "ID", "type": "nominal", "sort": null}, "color": {"field": "fc", "type": "quantitative", "scale": {"domain": [0.3333, 1, 3], "range": ["#233a83", "#ffffff", "#e2202c"], "clamp": true, "interpolate": "rgb"}, "legend": null}}},
   {"transform": [{"filter": "datum.value != null"}], "mark": {"type": "text", "clip": true, "align": "left", "dx": 5, "fontSize": 9, "color": "#222222"},
    "encoding": {"x": {"field": "tissue", "type": "nominal", "sort": null, "bandPosition": 0}, "y": {"field": "ID", "type": "nominal", "sort": null}, "text": {"field": "value", "type": "quantitative", "format": ".2f"}}},
   {"transform": [{"aggregate": [{"op": "count", "as": "n"}], "groupby": ["tissue"]}], "mark": {"type": "rule", "color": "#ffffff", "opacity": 0.55, "clip": true},
    "encoding": {"x": {"field": "tissue", "type": "nominal", "sort": null, "bandPosition": 0}}},
   {"transform": [{"aggregate": [{"op": "count", "as": "n"}], "groupby": ["ID"]}], "mark": {"type": "rule", "color": "#ffffff", "opacity": 0.25, "clip": true},
    "encoding": {"y": {"field": "ID", "type": "nominal", "sort": null, "bandPosition": 0}}}
  ]}
], "spacing": 0, "bounds": "flush"},
{"hconcat": [
 {"width": 56, "height": 109, "data": {"name": "rows"},
  "transform": [{"window": [{"op": "row_number", "as": "rn"}]}, {"filter": "datum.rn > 31 && datum.rn <= 35"}],
  "encoding": {"y": {"field": "ID", "type": "nominal", "sort": null, "axis": null, "scale": {"paddingInner": 0, "paddingOuter": 0}}},
  "layer": [
   {"mark": {"type": "rect", "clip": true}, "encoding": {"x": {"datum": 0, "type": "quantitative", "scale": {"domain": [0, 1]}, "axis": null}, "x2": {"datum": 1}, "color": {"condition": {"test": "datum.rn % 2 == 0", "value": "#d5e0ed"}, "value": "#e0e9f3"}}},
   {"mark": {"type": "text", "clip": true, "align": "left", "dx": 10, "fontSize": 9, "color": "#652f8a"}, "encoding": {"x": {"datum": 0, "type": "quantitative"}, "text": {"field": "ID"}}}
  ]},
 {"width": 146, "height": 109, "data": {"name": "rows"},
  "transform": [{"window": [{"op": "row_number", "as": "rn"}]}, {"filter": "datum.rn > 31 && datum.rn <= 35"}],
  "encoding": {"y": {"field": "ID", "type": "nominal", "sort": null, "axis": null, "scale": {"paddingInner": 0, "paddingOuter": 0}}},
  "layer": [
   {"mark": {"type": "rect", "clip": true}, "encoding": {"x": {"datum": 0, "type": "quantitative", "scale": {"domain": [0, 1]}, "axis": null}, "x2": {"datum": 1}, "color": {"condition": {"test": "datum.rn % 2 == 0", "value": "#e8eef6"}, "value": "#ffffff"}}},
   {"mark": {"type": "text", "clip": true, "align": "left", "dx": 7, "fontSize": 9, "color": "#222222", "lineBreak": "\n", "lineHeight": 11}, "encoding": {"x": {"datum": 0, "type": "quantitative"}, "text": {"field": "Desc"}}}
  ]},
 {"width": 595, "height": 109, "data": {"name": "cells"},
  "transform": [
   {"joinaggregate": [{"op": "mean", "field": "value", "as": "avg"}], "groupby": ["ID"]},
   {"calculate": "datum.value / datum.avg", "as": "fc"},
   {"window": [{"op": "row_number", "as": "rn"}], "groupby": ["tissue"]},
   {"filter": "datum.rn > 31 && datum.rn <= 35"}
  ],
  "layer": [
   {"mark": {"type": "rect", "fill": "#9b9797", "clip": true},
    "encoding": {"x": {"field": "tissue", "type": "nominal", "sort": null, "axis": null, "scale": {"paddingInner": 0, "paddingOuter": 0}}, "y": {"field": "ID", "type": "nominal", "sort": null, "axis": null, "scale": {"paddingInner": 0, "paddingOuter": 0}}}},
   {"transform": [{"filter": "datum.value != null"}], "mark": {"type": "rect", "clip": true},
    "encoding": {"x": {"field": "tissue", "type": "nominal", "sort": null}, "y": {"field": "ID", "type": "nominal", "sort": null}, "color": {"field": "fc", "type": "quantitative", "scale": {"domain": [0.3333, 1, 3], "range": ["#233a83", "#ffffff", "#e2202c"], "clamp": true, "interpolate": "rgb"}, "legend": null}}},
   {"transform": [{"filter": "datum.value != null"}], "mark": {"type": "text", "clip": true, "align": "left", "dx": 5, "fontSize": 9, "color": "#222222"},
    "encoding": {"x": {"field": "tissue", "type": "nominal", "sort": null, "bandPosition": 0}, "y": {"field": "ID", "type": "nominal", "sort": null}, "text": {"field": "value", "type": "quantitative", "format": ".2f"}}},
   {"transform": [{"aggregate": [{"op": "count", "as": "n"}], "groupby": ["tissue"]}], "mark": {"type": "rule", "color": "#ffffff", "opacity": 0.55, "clip": true},
    "encoding": {"x": {"field": "tissue", "type": "nominal", "sort": null, "bandPosition": 0}}},
   {"transform": [{"aggregate": [{"op": "count", "as": "n"}], "groupby": ["ID"]}], "mark": {"type": "rule", "color": "#ffffff", "opacity": 0.25, "clip": true},
    "encoding": {"y": {"field": "ID", "type": "nominal", "sort": null, "bandPosition": 0}}}
  ]}
], "spacing": 0, "bounds": "flush"},
{"hconcat": [
 {"width": 56, "height": 125, "data": {"name": "rows"},
  "transform": [{"window": [{"op": "row_number", "as": "rn"}]}, {"filter": "datum.rn > 35"}],
  "encoding": {"y": {"field": "ID", "type": "nominal", "sort": null, "axis": null, "scale": {"paddingInner": 0, "paddingOuter": 0}}},
  "layer": [
   {"mark": {"type": "rect", "clip": true}, "encoding": {"x": {"datum": 0, "type": "quantitative", "scale": {"domain": [0, 1]}, "axis": null}, "x2": {"datum": 1}, "color": {"condition": {"test": "datum.rn % 2 == 0", "value": "#d5e0ed"}, "value": "#e0e9f3"}}},
   {"mark": {"type": "text", "clip": true, "align": "left", "dx": 10, "fontSize": 9, "color": "#652f8a"}, "encoding": {"x": {"datum": 0, "type": "quantitative"}, "text": {"field": "ID"}}}
  ]},
 {"width": 146, "height": 125, "data": {"name": "rows"},
  "transform": [{"window": [{"op": "row_number", "as": "rn"}]}, {"filter": "datum.rn > 35"}],
  "encoding": {"y": {"field": "ID", "type": "nominal", "sort": null, "axis": null, "scale": {"paddingInner": 0, "paddingOuter": 0}}},
  "layer": [
   {"mark": {"type": "rect", "clip": true}, "encoding": {"x": {"datum": 0, "type": "quantitative", "scale": {"domain": [0, 1]}, "axis": null}, "x2": {"datum": 1}, "color": {"condition": {"test": "datum.rn % 2 == 0", "value": "#e8eef6"}, "value": "#ffffff"}}},
   {"mark": {"type": "text", "clip": true, "align": "left", "dx": 7, "fontSize": 9, "color": "#222222", "lineBreak": "\n", "lineHeight": 11}, "encoding": {"x": {"datum": 0, "type": "quantitative"}, "text": {"field": "Desc"}}}
  ]},
 {"width": 595, "height": 125, "data": {"name": "cells"},
  "transform": [
   {"joinaggregate": [{"op": "mean", "field": "value", "as": "avg"}], "groupby": ["ID"]},
   {"calculate": "datum.value / datum.avg", "as": "fc"},
   {"window": [{"op": "row_number", "as": "rn"}], "groupby": ["tissue"]},
   {"filter": "datum.rn > 35"}
  ],
  "layer": [
   {"mark": {"type": "rect", "fill": "#9b9797", "clip": true},
    "encoding": {"x": {"field": "tissue", "type": "nominal", "sort": null, "axis": null, "scale": {"paddingInner": 0, "paddingOuter": 0}}, "y": {"field": "ID", "type": "nominal", "sort": null, "axis": null, "scale": {"paddingInner": 0, "paddingOuter": 0}}}},
   {"transform": [{"filter": "datum.value != null"}], "mark": {"type": "rect", "clip": true},
    "encoding": {"x": {"field": "tissue", "type": "nominal", "sort": null}, "y": {"field": "ID", "type": "nominal", "sort": null}, "color": {"field": "fc", "type": "quantitative", "scale": {"domain": [0.3333, 1, 3], "range": ["#233a83", "#ffffff", "#e2202c"], "clamp": true, "interpolate": "rgb"}, "legend": null}}},
   {"transform": [{"filter": "datum.value != null"}], "mark": {"type": "text", "clip": true, "align": "left", "dx": 5, "fontSize": 9, "color": "#222222"},
    "encoding": {"x": {"field": "tissue", "type": "nominal", "sort": null, "bandPosition": 0}, "y": {"field": "ID", "type": "nominal", "sort": null}, "text": {"field": "value", "type": "quantitative", "format": ".2f"}}},
   {"transform": [{"aggregate": [{"op": "count", "as": "n"}], "groupby": ["tissue"]}], "mark": {"type": "rule", "color": "#ffffff", "opacity": 0.55, "clip": true},
    "encoding": {"x": {"field": "tissue", "type": "nominal", "sort": null, "bandPosition": 0}}},
   {"transform": [{"aggregate": [{"op": "count", "as": "n"}], "groupby": ["ID"]}], "mark": {"type": "rule", "color": "#ffffff", "opacity": 0.25, "clip": true},
    "encoding": {"y": {"field": "ID", "type": "nominal", "sort": null, "bandPosition": 0}}}
  ]}
], "spacing": 0, "bounds": "flush"}
],
"spacing": 0
}
